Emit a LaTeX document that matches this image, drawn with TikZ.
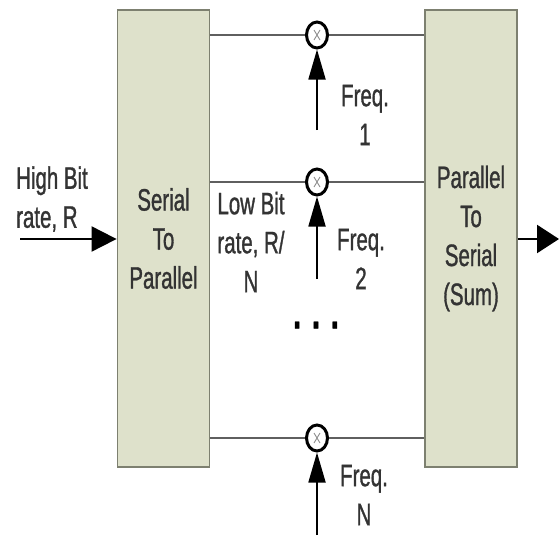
\documentclass[tikz,border=0pt]{standalone}
\usepackage{fontspec}
\newfontfamily\diagfont[FakeStretch=0.66,FakeBold=1.0]{Liberation Sans}
\usepackage{tikz}
\usetikzlibrary{arrows.meta,positioning,shapes.geometric}
\definecolor{blockfill}{RGB}{222,225,203}
\definecolor{blockedge}{RGB}{125,128,112}
\definecolor{wire}{RGB}{95,95,95}

\begin{document}
\begin{tikzpicture}[x=1pt,y=-1pt,>=Triangle,
  font=\diagfont\fontsize{31}{39}\selectfont,
  block/.style={draw=blockedge,line width=1.8pt,fill=blockfill,align=center,text=black!80,minimum width=92pt,minimum height=457pt,inner sep=0pt},
  mixer/.style={ellipse,draw,line width=3pt,minimum width=21pt,minimum height=26pt,inner sep=0pt,
    path picture={\draw[black!45,line width=0.9pt]
      ([shift={(-3pt,-5pt)}]path picture bounding box.center) -- ([shift={(3pt,5pt)}]path picture bounding box.center)
      ([shift={(-3pt,5pt)}]path picture bounding box.center) -- ([shift={(3pt,-5pt)}]path picture bounding box.center);}},
  wireline/.style={draw=wire,line width=1.8pt},
  feed/.style={->,line width=1.8pt,>={Triangle[length=30pt,width=17pt]}},
  lab/.style={align=center,text=black!80,inner sep=0pt}]
\useasboundingbox (0,0) rectangle (559,535);
\node[block] (sp) at (163.5,238.5) {Serial\\To\\Parallel};
\node[block] (ps) at (471,238.5) {Parallel\\To\\Serial\\(Sum)};
\node[mixer] (m1) at (317,35) {};
\node[mixer] (m2) at (317,182) {};
\node[mixer] (mN) at (317,438) {};
\coordinate (in) at (20,239);
\coordinate (out) at (559,239);
\coordinate (f1) at (317,130);
\coordinate (f2) at (317,279);
\coordinate (fN) at (317,535);
\node[lab,align=left] (high) at (52,199) {High Bit\\rate, R};
\node[lab] (low) at (251,242) {Low Bit\\rate, R/\\N};
\node[lab] (q1) at (365,115) {Freq.\\1};
\node[lab] (q2) at (361,259) {Freq.\\2};
\node[lab] (qN) at (364,495) {Freq.\\N};
\node[lab,text=black,font=\diagfont\bfseries\fontsize{44}{46}\selectfont] (dots) at (316,325) {. . .};
\foreach \m in {m1,m2,mN}{
  \draw[wireline] (sp.east |- \m) -- (\m);
  \draw[wireline] (\m) -- (ps.west |- \m);
}
\draw[feed] (f1) -- (m1);
\draw[feed] (f2) -- (m2);
\draw[feed] (fN) -- (mN);
\draw[->,line width=2pt,>={Triangle[length=25pt,width=25pt]}] (in) -- (sp.west |- in);
\draw[->,line width=2.4pt,>={Triangle[length=22pt,width=28pt]}] (ps.east |- out) -- (out);
\end{tikzpicture}
\end{document}
